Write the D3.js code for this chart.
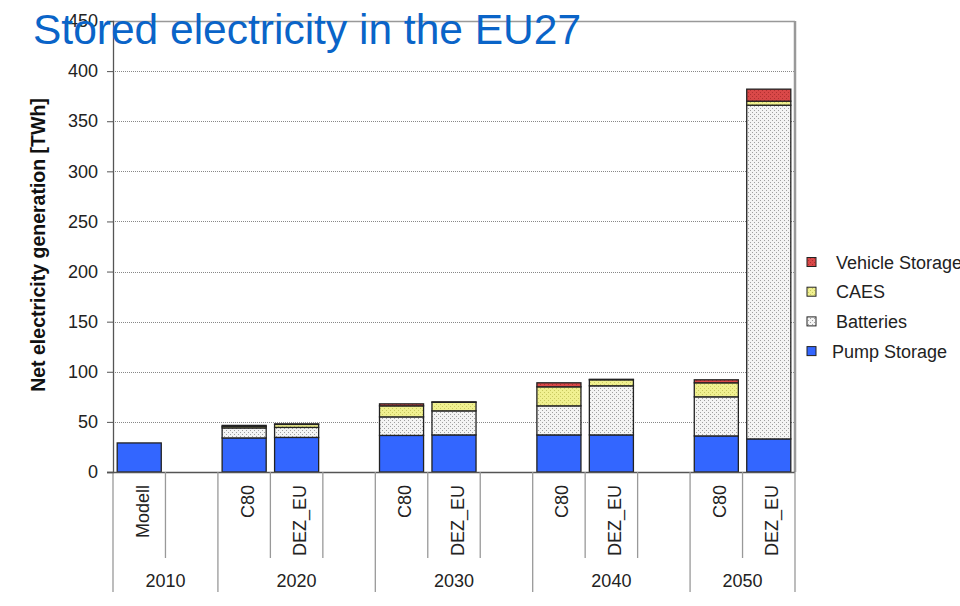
<!DOCTYPE html>
<html>
<head>
<meta charset="utf-8">
<script src="https://cdn.jsdelivr.net/npm/d3@7/dist/d3.min.js"></script>
<style>
  html, body { margin: 0; padding: 0; background: #fff; }
  svg { display: block; font-family: "Liberation Sans", Arial, sans-serif; }
</style>
</head>
<body>
<svg id="chart" width="960" height="606"></svg>
<script>
// Slots along the x axis (empty strings are spacer slots between decades)
const scenarios = ["Modell", "", "C80", "DEZ_EU", "", "C80", "DEZ_EU", "", "C80", "DEZ_EU", "", "C80", "DEZ_EU"];
const years = ["2010", "2020", "2030", "2040", "2050"];
const yearSpan = [2, 3, 3, 3, 2];           // number of slots each decade covers
const seriesNames = ["Pump Storage", "Batteries", "CAES", "Vehicle Storage"];

// Stored electricity per slot [TWh]
const pumpStorage    = [29, 0, 34, 34.5, 0, 36.5, 37, 0, 37, 37, 0, 36, 33];
const batteries      = [0,  0, 10, 10,   0, 18.5, 24, 0, 29, 49, 0, 39, 333];
const caes           = [0,  0, 1.5, 3,   0, 11,   8.5, 0, 19, 6, 0, 14, 4];
const vehicleStorage = [0,  0, 1,  0.5,  0, 2,    0.5, 0, 4, 0.5, 0, 3, 12];

const yTicks = [0, 50, 100, 150, 200, 250, 300, 350, 400, 450];

const svg = d3.select("#chart");
const plotL = 113, plotR = 795, plotT = 21, plotB = 472;

const slotIdx = scenarios.map((d, i) => i);
const x = d3.scaleBand().domain(slotIdx).range([plotL, plotR]).paddingInner(0.16).paddingOuter(0.08);
const xSlot = d3.scaleBand().domain(slotIdx).range([plotL, plotR]);
const y = d3.scaleLinear().domain([0, 450]).range([plotB, plotT]);

// Dot patterns used for the filled segments
const defs = svg.append("defs");
function dotPattern(id, bg, dot, size) {
  const p = defs.append("pattern").attr("id", id).attr("patternUnits", "userSpaceOnUse")
    .attr("width", 4).attr("height", 4);
  p.append("rect").attr("width", 4).attr("height", 4).attr("fill", bg);
  p.append("rect").attr("x", 0).attr("y", 0).attr("width", size).attr("height", size).attr("fill", dot);
  p.append("rect").attr("x", 2).attr("y", 2).attr("width", size).attr("height", size).attr("fill", dot);
}
dotPattern("patBatt", "#f4f4f4", "#a0a0a0", 1);
dotPattern("patCaes", "#f0f090", "#c8c860", 1);
dotPattern("patVeh", "#d94848", "#b03030", 1);

const fills = {
  "Pump Storage": "#3366ff",
  "Batteries": "url(#patBatt)",
  "CAES": "url(#patCaes)",
  "Vehicle Storage": "url(#patVeh)"
};

const fontFamily = "'Liberation Sans', Arial, sans-serif";

// Gridlines (dotted)
svg.append("g").selectAll("line").data(yTicks.filter(d => d > 0)).join("line")
  .attr("x1", plotL).attr("x2", plotR)
  .attr("y1", d => Math.round(y(d)) + 0.5).attr("y2", d => Math.round(y(d)) + 0.5)
  .attr("stroke", "#888").attr("stroke-width", 1).attr("stroke-dasharray", "1,1");

// Plot frame: top and right edges
svg.append("line").attr("x1", plotL).attr("x2", plotR).attr("y1", plotT + 0.5).attr("y2", plotT + 0.5)
  .attr("stroke", "#999").attr("stroke-width", 1.5);
svg.append("line").attr("x1", plotR).attr("x2", plotR).attr("y1", plotT).attr("y2", plotB)
  .attr("stroke", "#999").attr("stroke-width", 2.5);

// Stacked bars
const table = scenarios.map((s, i) => ({
  i, "Pump Storage": pumpStorage[i], "Batteries": batteries[i], "CAES": caes[i], "Vehicle Storage": vehicleStorage[i]
}));
const stacked = d3.stack().keys(seriesNames)(table);

const gBars = svg.append("g");
stacked.forEach(layer => {
  gBars.append("g").selectAll("rect")
    .data(layer.filter(d => d[1] - d[0] > 0))
    .join("rect")
    .attr("x", d => x(d.data.i))
    .attr("width", x.bandwidth())
    .attr("y", d => y(d[1]))
    .attr("height", d => y(d[0]) - y(d[1]))
    .attr("fill", fills[layer.key])
    .attr("stroke", "#222")
    .attr("stroke-width", 1.3);
});

// Y axis
const yAxis = svg.append("g").attr("transform", `translate(${plotL},0)`)
  .call(d3.axisLeft(y).tickValues(yTicks).tickSize(6).tickPadding(9));
yAxis.select(".domain").attr("stroke", "#555").attr("stroke-width", 1.3);
yAxis.selectAll(".tick line").attr("stroke", "#555");
yAxis.selectAll("text").attr("font-size", 18).attr("fill", "#222")
  .attr("font-family", fontFamily);
svg.append("line").attr("x1", plotL).attr("x2", plotL).attr("y1", plotB).attr("y2", 592)
  .attr("stroke", "#999").attr("stroke-width", 1.3);

// X axis baseline
svg.append("line").attr("x1", plotL - 6).attr("x2", plotR).attr("y1", plotB + 0.5).attr("y2", plotB + 0.5)
  .attr("stroke", "#555").attr("stroke-width", 1.3);

// Separators between slots and between decades
const boundaries = [];
let acc = 0;
yearSpan.forEach((n, k) => { acc += n; if (k < yearSpan.length - 1) boundaries.push(acc); });
const innerSeps = [];
{
  let start = 0;
  yearSpan.forEach(n => { for (let j = 1; j < n; j++) innerSeps.push(start + j); start += n; });
}
svg.append("g").selectAll("line").data(innerSeps).join("line")
  .attr("x1", d => xSlot(d)).attr("x2", d => xSlot(d))
  .attr("y1", plotB).attr("y2", 558)
  .attr("stroke", "#999").attr("stroke-width", 1.3);
svg.append("g").selectAll("line").data(boundaries.concat([scenarios.length])).join("line")
  .attr("x1", d => d === scenarios.length ? plotR : xSlot(d))
  .attr("x2", d => d === scenarios.length ? plotR : xSlot(d))
  .attr("y1", plotB).attr("y2", 592)
  .attr("stroke", "#999").attr("stroke-width", 1.3);

// Scenario labels (rotated)
svg.append("g").selectAll("text").data(table.filter(d => scenarios[d.i] !== "")).join("text")
  .attr("transform", d => `translate(${xSlot(d.i) + xSlot.bandwidth() / 2 + 9.5},485) rotate(-90)`)
  .attr("text-anchor", "end")
  .attr("font-size", 18).attr("fill", "#222")
  .text(d => scenarios[d.i]);

// Decade labels
{
  let start = 0;
  const pos = yearSpan.map(n => { const c = start + n / 2; start += n; return c; });
  const slotW = xSlot.bandwidth();
  svg.append("g").selectAll("text").data(years).join("text")
    .attr("x", (d, k) => plotL + pos[k] * slotW)
    .attr("y", 587)
    .attr("text-anchor", "middle")
    .attr("font-size", 18).attr("fill", "#222")
    .text(d => d);
}

// Y axis title
svg.append("text")
  .attr("transform", "translate(45,245) rotate(-90)")
  .attr("text-anchor", "middle")
  .attr("font-size", 19.5).attr("font-weight", "bold").attr("fill", "#111")
  .text("Net electricity generation [TWh]");

// Legend (top entry = last stacked series)
const legendItems = seriesNames.slice().reverse();
const lg = svg.append("g");
legendItems.forEach((name, k) => {
  const yy = 262 + k * 29.7;
  lg.append("rect").attr("x", 807).attr("y", yy - 4.5).attr("width", 9).attr("height", 9)
    .attr("fill", fills[name]).attr("stroke", "#222").attr("stroke-width", 1);
  lg.append("text").attr("x", name === "Pump Storage" ? 832 : 836).attr("y", yy + 6.5)
    .attr("font-size", 18).attr("fill", "#222").text(name);
});

// Title
svg.append("text")
  .attr("x", 33).attr("y", 44)
  .attr("font-size", 42.5).attr("fill", "#0a64c8")
  .text("Stored electricity in the EU27");
</script>
</body>
</html>
